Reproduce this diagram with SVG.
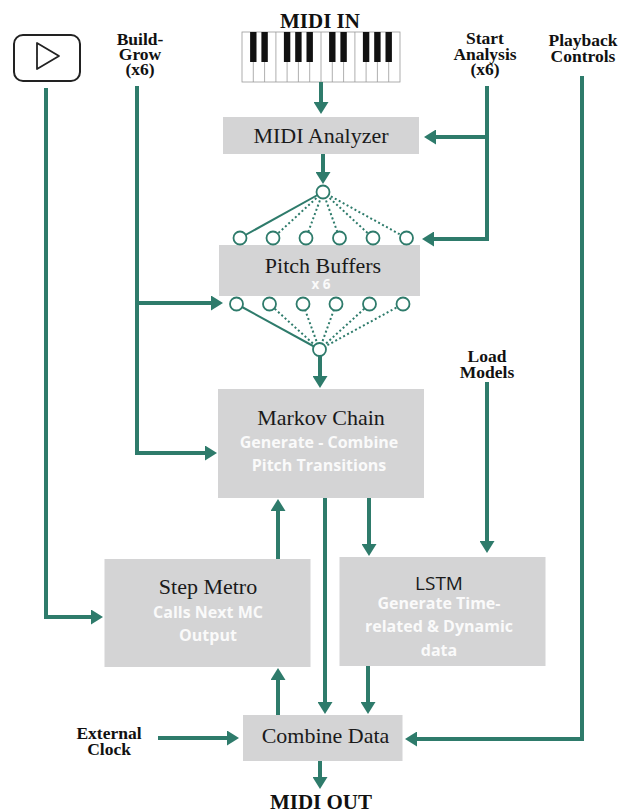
<svg xmlns="http://www.w3.org/2000/svg" width="623" height="812" viewBox="0 0 623 812">
<style>
.bg{fill:#ffffff}
.box{fill:#d4d4d5}
.lbl{font-family:"Liberation Serif","Times New Roman",serif;font-size:22px;fill:#1a1a1a;text-anchor:middle}
.sub{font-family:"Open Sans","Noto Sans",sans-serif;font-weight:700;font-size:16px;fill:#fafafa;text-anchor:middle}
.ext{font-family:"Liberation Serif","Times New Roman",serif;font-weight:700;font-size:17.5px;fill:#111;text-anchor:middle}
.big{font-family:"Liberation Serif","Times New Roman",serif;font-weight:700;font-size:21px;fill:#111;text-anchor:middle}
.lstm{font-family:"Open Sans","Noto Sans",sans-serif;font-size:19px;fill:#1a1a1a;text-anchor:middle}
.conn{fill:none;stroke:#2e7b6b;stroke-width:4}
.nl{stroke:#2e7b6b;stroke-width:2}
.dot{stroke:#2e7b6b;stroke-width:2;stroke-dasharray:2 2.5}
.neu{fill:#ffffff;stroke:#2e7b6b;stroke-width:1.8}
.wk{fill:#ffffff;stroke:#9a9a9a;stroke-width:0.8}
.kl{stroke:#9a9a9a;stroke-width:0.8}
.bk{fill:#111111}
</style>
<defs>
<marker id="ah" markerUnits="userSpaceOnUse" markerWidth="12" markerHeight="15" refX="8" refY="7.5" orient="auto">
<path d="M0,0 L12,7.5 L0,15 z" fill="#2e7b6b"/>
</marker>
</defs>
<rect class="bg" x="0" y="0" width="623" height="812"/>

<g id="midi-in">
<text class="big" x="320" y="28">MIDI IN</text>
<g id="piano">
<rect class="wk" x="242" y="32" width="158" height="50"/>
<line class="kl" x1="253.3" y1="32" x2="253.3" y2="82"/>
<line class="kl" x1="264.6" y1="32" x2="264.6" y2="82"/>
<line class="kl" x1="275.9" y1="32" x2="275.9" y2="82"/>
<line class="kl" x1="287.1" y1="32" x2="287.1" y2="82"/>
<line class="kl" x1="298.4" y1="32" x2="298.4" y2="82"/>
<line class="kl" x1="309.7" y1="32" x2="309.7" y2="82"/>
<line class="kl" x1="321" y1="32" x2="321" y2="82"/>
<line class="kl" x1="332.3" y1="32" x2="332.3" y2="82"/>
<line class="kl" x1="343.6" y1="32" x2="343.6" y2="82"/>
<line class="kl" x1="354.9" y1="32" x2="354.9" y2="82"/>
<line class="kl" x1="366.1" y1="32" x2="366.1" y2="82"/>
<line class="kl" x1="377.4" y1="32" x2="377.4" y2="82"/>
<line class="kl" x1="388.7" y1="32" x2="388.7" y2="82"/>
<rect class="bk" x="250.1" y="32" width="6.4" height="30"/>
<rect class="bk" x="261.4" y="32" width="6.4" height="30"/>
<rect class="bk" x="283.9" y="32" width="6.4" height="30"/>
<rect class="bk" x="295.2" y="32" width="6.4" height="30"/>
<rect class="bk" x="306.5" y="32" width="6.4" height="30"/>
<rect class="bk" x="329.1" y="32" width="6.4" height="30"/>
<rect class="bk" x="340.4" y="32" width="6.4" height="30"/>
<rect class="bk" x="362.9" y="32" width="6.4" height="30"/>
<rect class="bk" x="374.2" y="32" width="6.4" height="30"/>
<rect class="bk" x="385.5" y="32" width="6.4" height="30"/>
</g>
</g>

<g id="play-button">
<rect x="14" y="35" width="66" height="46" rx="9" fill="#ffffff" stroke="#222" stroke-width="2"/>
<path d="M37,43 L37,69 L59,56 z" fill="none" stroke="#222" stroke-width="1.8" stroke-linejoin="round"/>
</g>

<g id="build-grow">
<text class="ext" x="140" y="45">Build-</text>
<text class="ext" x="140" y="60">Grow</text>
<text class="ext" x="140" y="75">(x6)</text>
</g>

<g id="start-analysis">
<text class="ext" x="485" y="44">Start</text>
<text class="ext" x="485" y="60">Analysis</text>
<text class="ext" x="485" y="75">(x6)</text>
</g>

<g id="playback-controls">
<text class="ext" x="583" y="46">Playback</text>
<text class="ext" x="583" y="62">Controls</text>
</g>

<g id="load-models">
<text class="ext" x="487" y="362">Load</text>
<text class="ext" x="487" y="378">Models</text>
</g>

<g id="external-clock">
<text class="ext" x="109" y="739">External</text>
<text class="ext" x="109" y="755">Clock</text>
</g>

<g id="midi-out">
<text class="big" x="321" y="809">MIDI OUT</text>
</g>

<g id="midi-analyzer">
<rect class="box" x="223" y="117" width="196" height="37"/>
<text class="lbl" x="321" y="143">MIDI Analyzer</text>
</g>

<g id="pitch-buffers">
<rect class="box" x="219" y="245" width="201" height="51"/>
<text class="lbl" x="323" y="273">Pitch Buffers</text>
<text class="sub" x="321" y="289" style="font-size:13.5px">x 6</text>
</g>

<g id="markov-chain">
<rect class="box" x="218" y="389" width="206" height="109"/>
<text class="lbl" x="321" y="425">Markov Chain</text>
<text class="sub" x="319" y="448">Generate - Combine</text>
<text class="sub" x="319" y="471">Pitch Transitions</text>
</g>

<g id="step-metro">
<rect class="box" x="104.5" y="559" width="206" height="108"/>
<text class="lbl" x="208" y="594">Step Metro</text>
<text class="sub" x="208" y="618">Calls Next MC</text>
<text class="sub" x="208" y="641">Output</text>
</g>

<g id="lstm">
<rect class="box" x="339.5" y="557" width="206" height="109"/>
<text class="lstm" x="439" y="590">LSTM</text>
<text class="sub" x="439" y="609">Generate Time-</text>
<text class="sub" x="439" y="632">related &amp; Dynamic</text>
<text class="sub" x="439" y="656">data</text>
</g>

<g id="combine-data">
<rect class="box" x="243" y="715" width="159.5" height="46"/>
<text class="lbl" x="325.5" y="743">Combine Data</text>
</g>

<g id="neurons">
<line class="nl" x1="323" y1="192" x2="240" y2="238"/>
<line class="dot" x1="323" y1="192" x2="273" y2="238"/>
<line class="dot" x1="323" y1="192" x2="306" y2="238"/>
<line class="dot" x1="323" y1="192" x2="339.5" y2="238"/>
<line class="dot" x1="323" y1="192" x2="373" y2="238"/>
<line class="dot" x1="323" y1="192" x2="406.5" y2="238"/>
<line class="nl" x1="319.5" y1="349.5" x2="236.5" y2="304"/>
<line class="dot" x1="319.5" y1="349.5" x2="269.5" y2="304"/>
<line class="dot" x1="319.5" y1="349.5" x2="303" y2="304"/>
<line class="dot" x1="319.5" y1="349.5" x2="336" y2="304"/>
<line class="dot" x1="319.5" y1="349.5" x2="369.5" y2="304"/>
<line class="dot" x1="319.5" y1="349.5" x2="403" y2="304"/>
<circle class="neu" cx="323" cy="192" r="6.5"/>
<circle class="neu" cx="240" cy="238" r="6.5"/>
<circle class="neu" cx="273" cy="238" r="6.5"/>
<circle class="neu" cx="306" cy="238" r="6.5"/>
<circle class="neu" cx="339.5" cy="238" r="6.5"/>
<circle class="neu" cx="373" cy="238" r="6.5"/>
<circle class="neu" cx="406.5" cy="238" r="6.5"/>
<circle class="neu" cx="236.5" cy="304" r="6.5"/>
<circle class="neu" cx="269.5" cy="304" r="6.5"/>
<circle class="neu" cx="303" cy="304" r="6.5"/>
<circle class="neu" cx="336" cy="304" r="6.5"/>
<circle class="neu" cx="369.5" cy="304" r="6.5"/>
<circle class="neu" cx="403" cy="304" r="6.5"/>
<circle class="neu" cx="319.5" cy="349.5" r="6.5"/>
</g>

<g id="connectors">
<path class="conn" d="M321,82 V110" marker-end="url(#ah)"/>
<path class="conn" d="M323,154 V180" marker-end="url(#ah)"/>
<path class="conn" d="M487,86 V239 H426" marker-end="url(#ah)"/>
<path class="conn" d="M487,137 H428" marker-end="url(#ah)"/>
<path class="conn" d="M137,86 V453 H213" marker-end="url(#ah)"/>
<path class="conn" d="M137,303 H219" marker-end="url(#ah)"/>
<path class="conn" d="M320,356 V384" marker-end="url(#ah)"/>
<path class="conn" d="M487,382 V549" marker-end="url(#ah)"/>
<path class="conn" d="M369,498 V552" marker-end="url(#ah)"/>
<path class="conn" d="M325,498 V710" marker-end="url(#ah)"/>
<path class="conn" d="M278,559 V503" marker-end="url(#ah)"/>
<path class="conn" d="M278,715 V672" marker-end="url(#ah)"/>
<path class="conn" d="M368,666 V710" marker-end="url(#ah)"/>
<path class="conn" d="M46,88 V617 H99" marker-end="url(#ah)"/>
<path class="conn" d="M582,76 V739 H409" marker-end="url(#ah)"/>
<path class="conn" d="M158,738 H235" marker-end="url(#ah)"/>
<path class="conn" d="M320,761 V785" marker-end="url(#ah)"/>
</g>
</svg>
